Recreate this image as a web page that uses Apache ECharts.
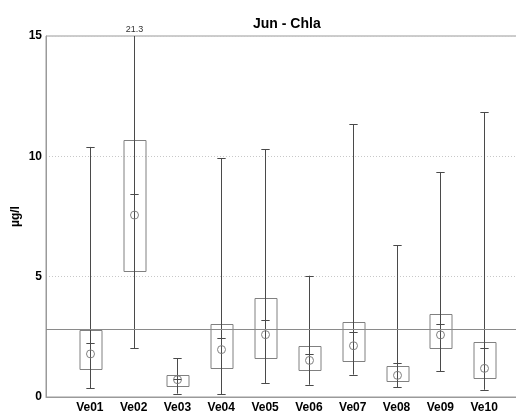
<!DOCTYPE html>
<html>
<head>
<meta charset="utf-8">
<script src="https://cdn.jsdelivr.net/npm/echarts@6/dist/echarts.min.js"></script>
<style>
  html, body { margin: 0; padding: 0; background: #fff; }
  #chart { width: 516px; height: 417px; }
</style>
</head>
<body>
<div id="chart"></div>
<script>
// Monthly chlorophyll-a statistics per station (µg/l)
const stations = ['Ve01', 'Ve02', 'Ve03', 'Ve04', 'Ve05', 'Ve06', 'Ve07', 'Ve08', 'Ve09', 'Ve10'];
const minValues    = [0.37, 2.02, 0.14, 0.11, 0.57, 0.51, 0.93, 0.40, 1.08, 0.30];
const q1Values     = [1.16, 5.22, 0.49, 1.23, 1.65, 1.12, 1.50, 0.66, 2.01, 0.78];
const medianValues = [1.79, 7.56, 0.72, 1.97, 2.59, 1.52, 2.13, 0.90, 2.58, 1.19];
const meanValues   = [2.23, 8.45, 0.75, 2.44, 3.21, 1.79, 2.69, 1.41, 3.02, 2.02];
const q3Values     = [2.77, 10.68, 0.93, 3.05, 4.13, 2.12, 3.10, 1.30, 3.44, 2.27];
const maxValues    = [10.39, 21.3, 1.61, 9.93, 10.29, 5.04, 11.33, 6.30, 9.35, 11.84];
const guideValue = 2.83;
const yTicks = [0, 5, 10, 15];

const yMax = yTicks[yTicks.length - 1];

const rows = stations.map((s, i) => [i + 1, minValues[i], q1Values[i], medianValues[i], meanValues[i], q3Values[i], maxValues[i]]);

const boxColor = '#808080';
const whiskerColor = '#4a4a4a';

function renderBox(params, api) {
  const x = api.value(0);
  const lo = api.value(1), q1 = api.value(2), med = api.value(3),
        mean = api.value(4), q3 = api.value(5), hi = api.value(6);
  const clipped = hi > yMax;
  const pLo = api.coord([x, lo]);
  const pHi = api.coord([x, Math.min(hi, yMax)]);
  const pQ1 = api.coord([x, q1]);
  const pQ3 = api.coord([x, q3]);
  const pMed = api.coord([x, med]);
  const pMean = api.coord([x, mean]);
  const unit = api.size([1, 0])[0];
  const half = unit * 0.25;
  const cap = unit * 0.095;
  const cx = Math.round(pLo[0]) + 0.5;
  const lineStyle = { stroke: whiskerColor, lineWidth: 1, fill: null };
  const children = [
    { type: 'rect', shape: { x: Math.round(cx - half), y: Math.round(pQ3[1]) + 0.5, width: Math.round(half * 2), height: Math.round(pQ1[1] - pQ3[1]) },
      style: { stroke: boxColor, fill: null, lineWidth: 1 } },
    { type: 'line', shape: { x1: cx, y1: pLo[1], x2: cx, y2: pHi[1] }, style: lineStyle },
    { type: 'line', shape: { x1: cx - cap, y1: Math.round(pLo[1]) + 0.5, x2: cx + cap, y2: Math.round(pLo[1]) + 0.5 }, style: lineStyle },
    { type: 'line', shape: { x1: cx - cap, y1: Math.round(pMean[1]) + 0.5, x2: cx + cap, y2: Math.round(pMean[1]) + 0.5 }, style: lineStyle },
    { type: 'circle', shape: { cx: cx, cy: pMed[1], r: 4 }, style: { stroke: boxColor, fill: null, lineWidth: 1 } }
  ];
  if (clipped) {
    children.push({ type: 'text', x: cx, y: pHi[1] - 2,
      style: { text: String(hi), fill: '#333', font: '9px "Liberation Sans", Arial, sans-serif', align: 'center', verticalAlign: 'bottom' } });
  } else {
    children.push({ type: 'line', shape: { x1: cx - cap, y1: Math.round(pHi[1]) + 0.5, x2: cx + cap, y2: Math.round(pHi[1]) + 0.5 }, style: lineStyle });
  }
  return { type: 'group', children: children };
}

const chart = echarts.init(document.getElementById('chart'), null, { renderer: 'canvas' });
chart.setOption({
  animation: false,
  textStyle: { fontFamily: '"Liberation Sans", Arial, sans-serif' },
  title: {
    text: 'Jun - Chla',
    left: 248, top: 12,
    textStyle: { fontSize: 14, fontWeight: 'bold', color: '#000' }
  },
  // the plot box runs on past the right edge of the page
  grid: {
    left: 46, top: 36, width: 482, height: 361,
    outerBoundsMode: 'none', containLabel: false,
    show: true, borderColor: '#9a9a9a', borderWidth: 1, backgroundColor: 'transparent'
  },
  xAxis: {
    type: 'value', min: 0, max: stations.length + 1, interval: 1,
    axisLine: { show: true, lineStyle: { color: '#9a9a9a' } },
    axisTick: { show: false },
    splitLine: { show: false },
    axisLabel: {
      color: '#000', fontSize: 12, fontWeight: 'bold', margin: 5,
      formatter: v => (v >= 1 && v <= stations.length ? stations[v - 1] : '')
    }
  },
  yAxis: {
    type: 'value', min: yTicks[0], max: yMax, interval: yTicks[1] - yTicks[0],
    name: 'µg/l', nameLocation: 'middle', nameGap: 24, nameRotate: 90, nameMoveOverlap: false,
    nameTextStyle: { color: '#000', fontSize: 12, fontWeight: 'bold' },
    axisLine: { show: true, lineStyle: { color: '#9a9a9a' } },
    axisTick: { show: false },
    axisLabel: { color: '#000', fontSize: 12, fontWeight: 'bold', margin: 4 },
    splitLine: { show: true, lineStyle: { color: '#c8c8c8', type: [1, 2], width: 1 } }
  },
  series: [{
    type: 'custom',
    renderItem: renderBox,
    data: rows,
    z: 3,
    markLine: {
      silent: true, symbol: 'none', label: { show: false },
      lineStyle: { color: '#8a8a8a', type: 'solid', width: 1 },
      data: [{ yAxis: guideValue }]
    }
  }]
});
</script>
</body>
</html>
